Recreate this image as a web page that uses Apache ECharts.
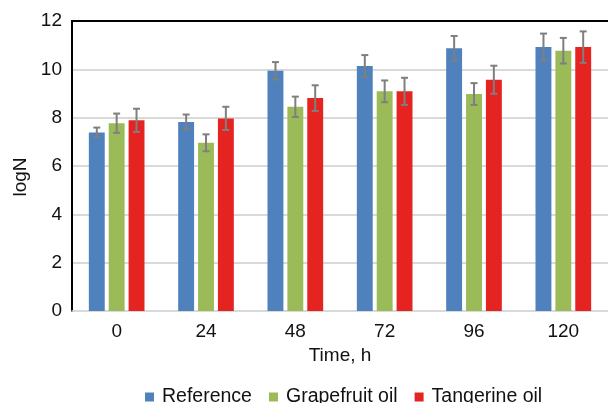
<!DOCTYPE html>
<html>
<head>
<meta charset="utf-8">
<script src="https://cdn.jsdelivr.net/npm/echarts@6/dist/echarts.min.js"></script>
<style>html,body{margin:0;padding:0;background:#fff}#c{width:608px;height:403px}</style>
</head>
<body>
<div id="c"></div>
<script>
const categories = ['0', '24', '48', '72', '96', '120'];
const seriesNames = ['Reference', 'Grapefruit oil', 'Tangerine oil'];
const referenceValues = [7.39, 7.82, 9.94, 10.14, 10.87, 10.92];
const referenceErrors = [0.2, 0.31, 0.36, 0.45, 0.51, 0.56];
const grapefruitValues = [7.77, 6.96, 8.45, 9.09, 8.98, 10.77];
const grapefruitErrors = [0.4, 0.35, 0.42, 0.45, 0.45, 0.53];
const tangerineValues = [7.89, 7.97, 8.81, 9.09, 9.57, 10.92];
const tangerineErrors = [0.48, 0.48, 0.53, 0.56, 0.58, 0.65];
const yTicks = [0, 2, 4, 6, 8, 10, 12];

const colors = ['#4f81bd', '#9bbb59', '#e52421'];
const allValues = [referenceValues, grapefruitValues, tangerineValues];
const allErrors = [referenceErrors, grapefruitErrors, tangerineErrors];
const FONT = '"Liberation Sans", Arial, sans-serif';
const TXT = '#111';
const FS = 19;

const chart = echarts.init(document.getElementById('c'), null, {renderer: 'canvas'});

function errorSeries(k) {
  return {
    type: 'custom',
    name: seriesNames[k] + ' error',
    z: 10,
    silent: true,
    data: allValues[k].map((v, i) => [i, v, allErrors[k][i]]),
    renderItem: function (params, api) {
      const i = api.value(0), v = api.value(1), e = api.value(2);
      const band = api.size([1, 0])[0];
      const off = (k - 1) * band * 20 / 90;
      const top = api.coord([i, v + e]);
      const bot = api.coord([i, v - e]);
      const x = top[0] + off;
      const hw = 3.5;
      const st = {stroke: '#7f7f7f', lineWidth: 2};
      return {
        type: 'group',
        children: [
          {type: 'line', shape: {x1: x, y1: top[1], x2: x, y2: bot[1]}, style: st},
          {type: 'line', shape: {x1: x - hw, y1: top[1], x2: x + hw, y2: top[1]}, style: st},
          {type: 'line', shape: {x1: x - hw, y1: bot[1], x2: x + hw, y2: bot[1]}, style: st}
        ]
      };
    }
  };
}

const barSeries = allValues.map((vals, k) => ({
  type: 'bar',
  name: seriesNames[k],
  data: vals,
  barWidth: '17.8%',
  barGap: '25%',
  itemStyle: {color: colors[k]},
  emphasis: {disabled: true}
}));

chart.setOption({
  animation: false,
  textStyle: {fontFamily: FONT},
  grid: {left: 72, top: 21, width: 540, height: 290, containLabel: false},
  legend: {
    data: seriesNames,
    left: 140,
    top: 387,
    padding: [0, 5, 0, 5],
    icon: 'rect',
    itemWidth: 9,
    itemHeight: 9,
    itemGap: 17,
    textStyle: {fontFamily: FONT, fontSize: 19.5, color: TXT, padding: [0, 0, 0, 3]}
  },
  xAxis: [{
    type: 'category',
    data: categories,
    position: 'bottom',
    name: 'Time, h',
    nameLocation: 'middle',
    nameGap: 35,
    nameTextStyle: {fontFamily: FONT, fontSize: FS, color: TXT},
    axisLine: {show: true, lineStyle: {color: '#d9d9d9', width: 1.5}},
    axisTick: {show: false},
    axisLabel: {fontFamily: FONT, fontSize: FS, color: TXT, margin: 11},
    splitLine: {show: false}
  }, {
    type: 'category',
    data: categories,
    position: 'top',
    axisLine: {show: true, onZero: false, lineStyle: {color: '#000', width: 2}},
    axisTick: {show: false},
    axisLabel: {show: false},
    splitLine: {show: false}
  }],
  yAxis: {
    type: 'value',
    min: 0,
    max: 12,
    interval: 2,
    name: 'logN',
    nameLocation: 'middle',
    nameGap: 41,
    nameTextStyle: {fontFamily: FONT, fontSize: FS, color: TXT, padding: [0, 22, 0, 0]},
    axisLine: {show: true, lineStyle: {color: '#000', width: 2}},
    axisTick: {show: false},
    axisLabel: {fontFamily: FONT, fontSize: FS, color: TXT, margin: 10,
      formatter: v => yTicks.includes(v) ? String(v) : ''},
    splitLine: {show: true, lineStyle: {color: '#d9d9d9', width: 2}}
  },
  series: barSeries.concat([0, 1, 2].map(errorSeries))
});
</script>
</body>
</html>
